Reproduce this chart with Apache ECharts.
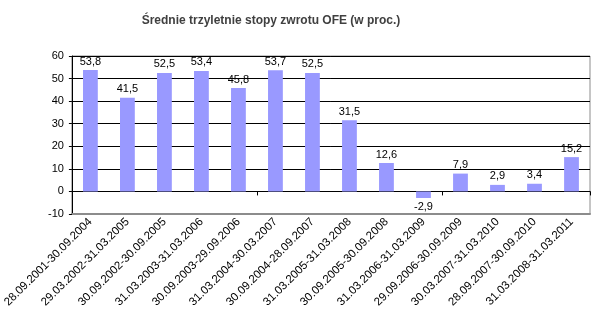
<!DOCTYPE html>
<html><head><meta charset="utf-8">
<script src="https://cdn.jsdelivr.net/npm/echarts@6/dist/echarts.min.js"></script>
<style>html,body{margin:0;padding:0;background:#fff}#c{width:593px;height:329px}</style>
</head><body><div id="c"></div>
<script>
const titleText = 'Średnie trzyletnie stopy zwrotu OFE (w proc.)';
const categories = [
  '28.09.2001-30.09.2004','29.03.2002-31.03.2005','30.09.2002-30.09.2005',
  '31.03.2003-31.03.2006','30.09.2003-29.09.2006','31.03.2004-30.03.2007',
  '30.09.2004-28.09.2007','31.03.2005-31.03.2008','30.09.2005-30.09.2008',
  '31.03.2006-31.03.2009','29.09.2006-30.09.2009','30.03.2007-31.03.2010',
  '28.09.2007-30.09.2010','31.03.2008-31.03.2011'
];
const values = [53.8, 41.5, 52.5, 53.4, 45.8, 53.7, 52.5, 31.5, 12.6, -2.9, 7.9, 2.9, 3.4, 15.2];
const yMin = -10, yMax = 60, yStep = 10;

const chart = echarts.init(document.getElementById('c'), null, {renderer:'canvas'});
const font = 'Liberation Sans, Arial, sans-serif';
chart.setOption({
  animation: false,
  title: {
    text: titleText, left: 266, top: 10, textAlign: 'center',
    textStyle: {fontFamily: font, fontSize: 12, fontWeight: 'bold', color: '#404040'}
  },
  grid: {left: 70, right: 3, top: 56, bottom: 115, show: true, borderColor: '#8c8c8c', borderWidth: 1},
  xAxis: [{
    type: 'category', data: categories,
    axisLine: {onZero: true, lineStyle: {color: '#000', width: 1}},
    axisTick: {show: true, length: 4, inside: false, lineStyle: {color: '#000'}},
    axisLabel: {show: false}
  }, {
    type: 'category', data: categories, position: 'bottom',
    axisLine: {show: true, onZero: false, lineStyle: {color: '#8c8c8c', width: 2}},
    axisTick: {show: false},
    axisLabel: {show: true, interval: 0, rotate: 45, margin: 6, fontFamily: font, fontSize: 11.5, color: '#000'}
  }],
  yAxis: {
    type: 'value', min: yMin, max: yMax, interval: yStep,
    axisLine: {show: true, lineStyle: {color: '#000'}},
    axisTick: {show: true, length: 3, lineStyle: {color: '#000'}},
    axisLabel: {fontFamily: font, fontSize: 11, color: '#000', margin: 8},
    splitLine: {show: true, lineStyle: {color: '#000', width: 1}}
  },
  series: [{
    type: 'bar', xAxisIndex: 0, barWidth: '40%',
    itemStyle: {color: '#9999ff'},
    data: values.map(v => ({value: v, label: {position: v < 0 ? 'bottom' : 'top'}})),
    label: {
      show: true, distance: 3, fontFamily: font, fontSize: 11, color: '#000',
      formatter: p => String(p.value).replace('.', ',')
    }
  }]
});
</script></body></html>
